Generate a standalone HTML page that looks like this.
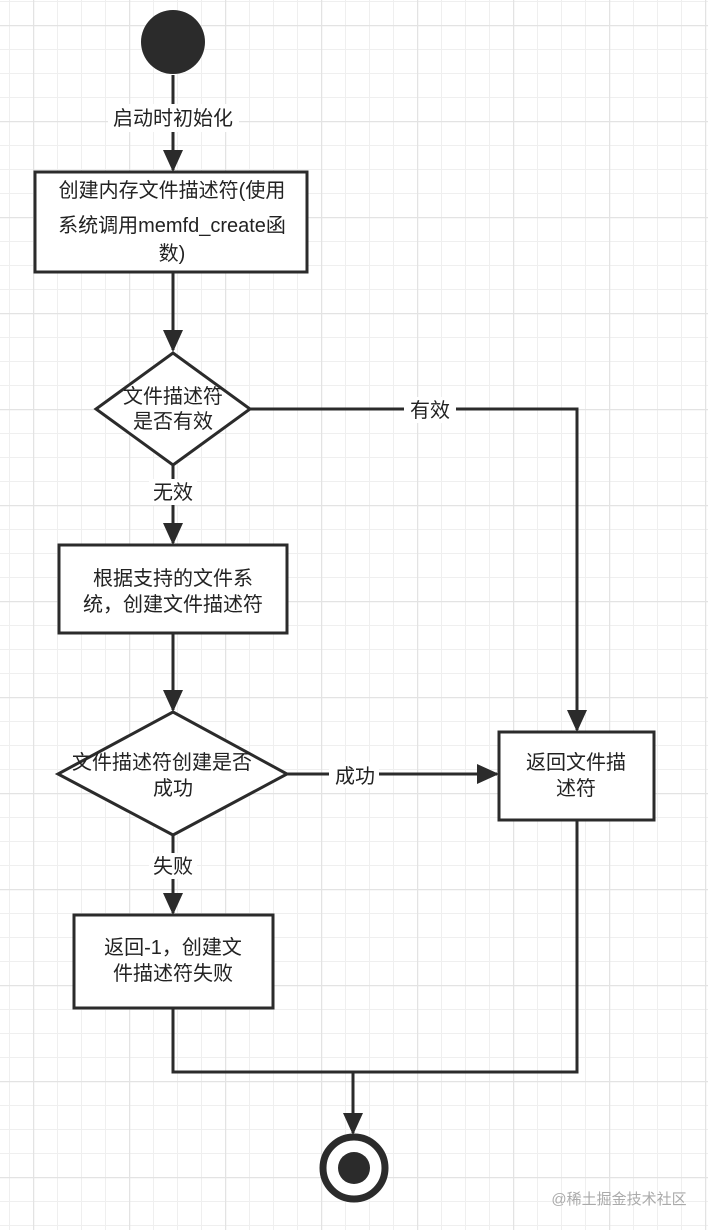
<!DOCTYPE html>
<html><head><meta charset="utf-8"><style>
html,body{margin:0;padding:0;background:#fff;}
svg{display:block;}
text{font-family:"Liberation Sans","Noto Sans CJK SC",sans-serif;fill:#222;font-size:20px;}
</style></head><body>
<svg width="708" height="1230" viewBox="0 0 708 1230" xmlns="http://www.w3.org/2000/svg">
<defs>
<pattern id="g" x="9" y="1" width="24" height="24" patternUnits="userSpaceOnUse">
<path d="M0.5 0V24M0 0.5H24" stroke="#efefef" stroke-width="1" fill="none"/>
</pattern>
<pattern id="G" x="33" y="25" width="96" height="96" patternUnits="userSpaceOnUse">
<path d="M0.5 0V96M0 0.5H96" stroke="#e3e3e3" stroke-width="1.5" fill="none"/>
</pattern>
</defs>
<rect width="708" height="1230" fill="url(#g)"/>
<rect width="708" height="1230" fill="url(#G)"/>
<g stroke="#2b2b2b" stroke-width="3" fill="none">
<path d="M173 75V170"/>
<path d="M173 272V350"/>
<path d="M173 465V543"/>
<path d="M173 633V710"/>
<path d="M173 835V913"/>
<path d="M250 409H577V730"/>
<path d="M287 774H497"/>
<path d="M173 1008V1072H577V820"/>
<path d="M353 1072V1133"/>
</g>
<g fill="#2b2b2b">
<path d="M163 150L183 150L173 172Z"/>
<path d="M163 330L183 330L173 352Z"/>
<path d="M163 523L183 523L173 545Z"/>
<path d="M163 690L183 690L173 712Z"/>
<path d="M163 893L183 893L173 915Z"/>
<path d="M567 710L587 710L577 732Z"/>
<path d="M477 764L477 784L499 774Z"/>
<path d="M343 1113L363 1113L353 1135Z"/>
</g>
<circle cx="173" cy="42" r="32" fill="#2b2b2b"/>
<g stroke="#2b2b2b" stroke-width="3" fill="#fff">
<rect x="35" y="172" width="272" height="100"/>
<path d="M173 353L250 409L173 465L96 409Z"/>
<rect x="59" y="545" width="228" height="88"/>
<path d="M173 712L287 774L173 835L58 774Z"/>
<rect x="499" y="732" width="155" height="88"/>
<rect x="74" y="915" width="199" height="93"/>
</g>
<circle cx="354" cy="1168" r="31" fill="#fff" stroke="#2b2b2b" stroke-width="7"/>
<circle cx="354" cy="1168" r="16" fill="#2b2b2b"/>
<g fill="#fff">
<rect x="108" y="104" width="131" height="28"/>
<rect x="404" y="397" width="52" height="26"/>
<rect x="149" y="479" width="48" height="26"/>
<rect x="329" y="762" width="50" height="26"/>
<rect x="149" y="853" width="48" height="26"/>
</g>
<g text-anchor="middle">
<text x="173" y="125">启动时初始化</text>
<text x="172" y="197">创建内存文件描述符(使用</text>
<text x="172" y="232">系统调用memfd_create函</text>
<text x="172" y="260">数)</text>
<text x="173" y="403">文件描述符</text>
<text x="173" y="428">是否有效</text>
<text x="430" y="417">有效</text>
<text x="173" y="499">无效</text>
<text x="173" y="585">根据支持的文件系</text>
<text x="173" y="611">统，创建文件描述符</text>
<text x="162" y="769">文件描述符创建是否</text>
<text x="173" y="795">成功</text>
<text x="355" y="783">成功</text>
<text x="576" y="769">返回文件描</text>
<text x="576" y="795">述符</text>
<text x="173" y="873">失败</text>
<text x="173" y="954">返回-1，创建文</text>
<text x="173" y="980">件描述符失败</text>
<text x="619" y="1204" style="font-size:15px;fill:#aaa">@稀土掘金技术社区</text>
</g>
</svg>
</body></html>
